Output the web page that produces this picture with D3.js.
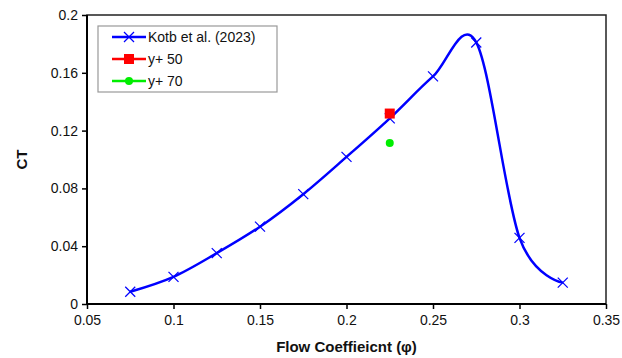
<!DOCTYPE html>
<html>
<head>
<meta charset="utf-8">
<script src="https://cdn.jsdelivr.net/npm/d3@7"></script>
<style>
  body { margin: 0; background: #fff; }
  text { font-family: "Liberation Sans", Arial, sans-serif; }
</style>
</head>
<body>
<div id="chart"></div>
<script>
// Kotb et al. (2023) thrust coefficient vs flow coefficient
const kotbPhi = [0.075, 0.1, 0.125, 0.15, 0.175, 0.2, 0.225, 0.25, 0.275, 0.3, 0.325];
const kotbCT  = [0.0085, 0.0188, 0.0352, 0.0535, 0.076, 0.1018, 0.1285, 0.1575, 0.181, 0.0458, 0.0148];

// CFD points
const yPlus50 = [{ phi: 0.225, ct: 0.1318 }];
const yPlus70 = [{ phi: 0.225, ct: 0.1114 }];

const xTicks = [0.05, 0.1, 0.15, 0.2, 0.25, 0.3, 0.35];
const yTicks = [0, 0.04, 0.08, 0.12, 0.16, 0.2];

const legendItems = [
  { label: 'Kotb et al. (2023)', color: '#0000ff', marker: 'x' },
  { label: 'y+ 50', color: '#ff0000', marker: 'square' },
  { label: 'y+ 70', color: '#00ee00', marker: 'circle' }
];

const width = 622, height = 358;
const margin = { left: 87, right: 16, top: 15, bottom: 54 };

const svg = d3.select('#chart').append('svg')
  .attr('width', width)
  .attr('height', height);

const x = d3.scaleLinear().domain([0.05, 0.35]).range([margin.left, width - margin.right]);
const y = d3.scaleLinear().domain([0, 0.2]).range([height - margin.bottom, margin.top]);

// plot frame (top / right)
svg.append('rect')
  .attr('x', x(0.05)).attr('y', y(0.2))
  .attr('width', x(0.35) - x(0.05)).attr('height', y(0) - y(0.2))
  .attr('fill', 'none')
  .attr('stroke', '#222')
  .attr('stroke-width', 1.5);

// axes
const xAxis = svg.append('g')
  .attr('transform', `translate(0,${y(0)})`)
  .call(d3.axisBottom(x).tickValues(xTicks).tickSize(5).tickPadding(6).tickFormat(d3.format('')));
const yAxis = svg.append('g')
  .attr('transform', `translate(${x(0.05)},0)`)
  .call(d3.axisLeft(y).tickValues(yTicks).tickSize(5).tickPadding(4).tickFormat(d3.format('')));

[xAxis, yAxis].forEach(g => {
  g.select('.domain').attr('stroke', '#000').attr('stroke-width', 2);
  g.selectAll('.tick line').attr('stroke', '#000').attr('stroke-width', 1.5);
  g.selectAll('.tick text')
    .attr('font-size', 14)
    .attr('fill', '#111')
    .style('font-family', '"Liberation Sans", Arial, sans-serif');
});
xAxis.select('.domain').attr('d', `M${x(0.05)},0H${x(0.35)}`);
yAxis.select('.domain').attr('d', `M0,${y(0)}V${y(0.2)}`);

// axis titles
svg.append('text')
  .attr('x', (x(0.05) + x(0.35)) / 2)
  .attr('y', 352)
  .attr('text-anchor', 'middle')
  .attr('font-size', 15)
  .attr('font-weight', 700)
  .attr('fill', '#111')
  .text('Flow Coeffieicnt (φ)');

svg.append('text')
  .attr('transform', `translate(27,${(y(0) + y(0.2)) / 2}) rotate(-90)`)
  .attr('text-anchor', 'middle')
  .attr('font-size', 15)
  .attr('font-weight', 700)
  .attr('fill', '#111')
  .text('CT');

// smoothed line
const kotb = kotbPhi.map((p, i) => ({ phi: p, ct: kotbCT[i] }));
const line = d3.line()
  .x(d => x(d.phi))
  .y(d => y(d.ct))
  .curve(d3.curveCardinal.tension(0));

svg.append('path')
  .datum(kotb)
  .attr('d', line)
  .attr('fill', 'none')
  .attr('stroke', '#0000ff')
  .attr('stroke-width', 2.5);

const xMark = (cx, cy, s, color) => {
  const g = svg.append('g').attr('stroke', color).attr('stroke-width', 1.2);
  g.append('line').attr('x1', cx - s).attr('y1', cy - s).attr('x2', cx + s).attr('y2', cy + s);
  g.append('line').attr('x1', cx - s).attr('y1', cy + s).attr('x2', cx + s).attr('y2', cy - s);
};

kotb.forEach(d => xMark(x(d.phi), y(d.ct), 5, '#0000ff'));

svg.selectAll('rect.yp50').data(yPlus50).join('rect')
  .attr('class', 'yp50')
  .attr('x', d => x(d.phi) - 5).attr('y', d => y(d.ct) - 5)
  .attr('width', 10).attr('height', 10)
  .attr('fill', '#ff0000');

svg.selectAll('circle.yp70').data(yPlus70).join('circle')
  .attr('class', 'yp70')
  .attr('cx', d => x(d.phi)).attr('cy', d => y(d.ct))
  .attr('r', 4)
  .attr('fill', '#00ee00');

// legend
const lg = svg.append('g').attr('transform', 'translate(98,26)');
lg.append('rect')
  .attr('width', 179).attr('height', 66)
  .attr('fill', '#fff')
  .attr('stroke', '#999')
  .attr('stroke-width', 1.2);

legendItems.forEach((it, i) => {
  const cy = 11 + i * 22;
  lg.append('line')
    .attr('x1', 14).attr('x2', 48).attr('y1', cy).attr('y2', cy)
    .attr('stroke', it.color).attr('stroke-width', 2.5);
  if (it.marker === 'x') {
    const g = lg.append('g').attr('stroke', it.color).attr('stroke-width', 1.2);
    g.append('line').attr('x1', 26).attr('y1', cy - 5).attr('x2', 36).attr('y2', cy + 5);
    g.append('line').attr('x1', 26).attr('y1', cy + 5).attr('x2', 36).attr('y2', cy - 5);
  } else if (it.marker === 'square') {
    lg.append('rect').attr('x', 26).attr('y', cy - 5).attr('width', 10).attr('height', 10).attr('fill', it.color);
  } else {
    lg.append('circle').attr('cx', 31).attr('cy', cy).attr('r', 4).attr('fill', it.color);
  }
  lg.append('text')
    .attr('x', 50).attr('y', cy + 5)
    .attr('font-size', 14)
    .attr('fill', '#111')
    .text(it.label);
});
</script>
</body>
</html>
